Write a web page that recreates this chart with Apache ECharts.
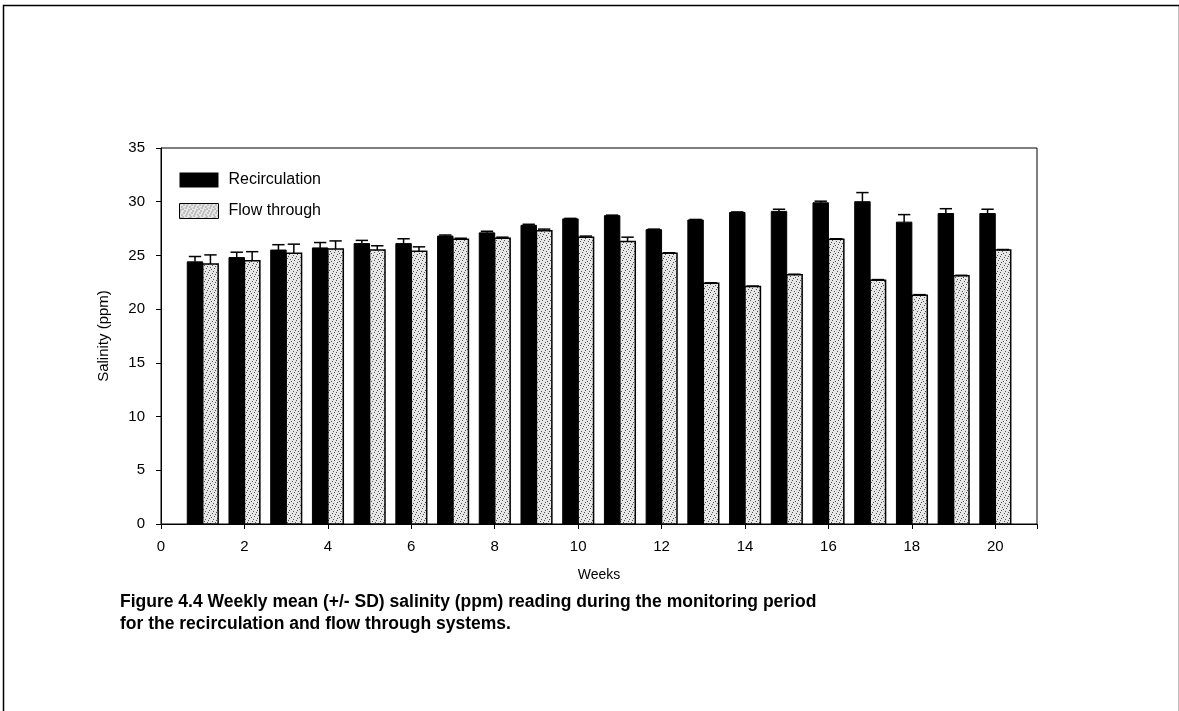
<!DOCTYPE html>
<html>
<head>
<meta charset="utf-8">
<script src="https://cdn.jsdelivr.net/npm/echarts@6/dist/echarts.min.js"></script>
<style>
html,body{margin:0;padding:0;background:#fff;}
#chart{width:1179px;height:711px;}
</style>
</head>
<body>
<div id="chart"></div>
<script>
// ---- data ----
const weeks = [1,2,3,4,5,6,7,8,9,10,11,12,13,14,15,16,17,18,19,20];
const recirculation = [24.4,24.8,25.5,25.7,26.1,26.1,26.8,27.1,27.8,28.4,28.7,27.4,28.3,29.0,29.1,29.9,30.0,28.1,28.9,28.9];
const recirculationSD = [0.5,0.5,0.5,0.5,0.3,0.45,0.1,0.15,0.1,0.05,0.05,0.05,0.05,0.05,0.2,0.15,0.85,0.7,0.45,0.4];
const flowThrough = [24.2,24.5,25.2,25.6,25.5,25.4,26.5,26.6,27.3,26.7,26.3,25.2,22.4,22.1,23.2,26.5,22.7,21.3,23.1,25.5];
const flowThroughSD = [0.85,0.85,0.85,0.75,0.4,0.4,0.1,0.1,0.15,0.1,0.4,0.05,0.05,0.05,0.05,0.05,0.05,0.05,0.05,0.05];
const yTicks = [0,5,10,15,20,25,30,35];
const xTicks = [0,2,4,6,8,10,12,14,16,18,20];

// ---- speckled fill pattern for "Flow through" ----
function makePattern(){
  const c = document.createElement('canvas');
  c.width = 8; c.height = 8;
  const ctx = c.getContext('2d');
  ctx.fillStyle = '#e6e6e6';
  ctx.fillRect(0,0,8,8);
  ctx.fillStyle = '#555';
  const dots = [[0,0],[4,1],[2,3],[6,4],[1,6],[5,7],[7,2],[3,5]];
  dots.forEach(d => ctx.fillRect(d[0], d[1], 1, 1));
  return c;
}
const pattern = {image: makePattern(), repeat: 'repeat'};

const BW = 0.37; // bar width in weeks

function makeRender(offStart, offEnd, fill, stroke, lw){
  return function(params, api){
    const w = api.value(0), v = api.value(1), sd = api.value(2);
    const p0 = api.coord([w + offStart, v]);
    const p1 = api.coord([w + offEnd, 0]);
    const cxv = w + (offStart + offEnd) / 2;
    const pc = api.coord([cxv, v]);
    const pt = api.coord([cxv, v + sd]);
    const half = (p1[0] - p0[0]) * 0.4;
    return {
      type: 'group',
      children: [
        {type:'rect', shape:{x:p0[0], y:p0[1], width:p1[0]-p0[0], height:p1[1]-p0[1]},
         style:{fill: fill, stroke: stroke, lineWidth: lw}},
        {type:'line', shape:{x1:pc[0], y1:pc[1], x2:pt[0], y2:pt[1]}, style:{stroke:'#000', lineWidth:1.5}},
        {type:'line', shape:{x1:pt[0]-half, y1:pt[1], x2:pt[0]+half, y2:pt[1]}, style:{stroke:'#000', lineWidth:1.5}}
      ]
    };
  };
}

const recData = weeks.map((w,i)=>[w, recirculation[i], recirculationSD[i]]);
const flowData = weeks.map((w,i)=>[w, flowThrough[i], flowThroughSD[i]]);

const chart = echarts.init(document.getElementById('chart'), null, {renderer:'canvas'});
const font = 'Liberation Sans, Arial, Helvetica, sans-serif';
chart.setOption({
  animation: false,
  backgroundColor: '#fff',
  textStyle: {fontFamily: font, color:'#000'},
  grid: {left:161, top:148, width:876, height:376, show:true, borderColor:'#000', borderWidth:1, backgroundColor:'transparent'},
  legend: {
    orient:'vertical', left:179, top:172, padding:0, itemWidth:39, itemHeight:15, itemGap:15,
    textStyle:{fontFamily:font, fontSize:16, color:'#000', padding:[0,0,0,5]},
    data:[
      {name:'Recirculation', icon:'rect', itemStyle:{color:'#000'}},
      {name:'Flow through', icon:'rect', itemStyle:{color:pattern, borderColor:'#000', borderWidth:1}}
    ]
  },
  xAxis: {
    type:'value', min:0, max:21, interval:2,
    name:'Weeks', nameLocation:'middle', nameGap:44,
    nameTextStyle:{fontFamily:font, fontSize:14, color:'#000'},
    axisLine:{show:true, lineStyle:{color:'#000', width:1}},
    axisTick:{show:true, inside:false, length:5, lineStyle:{color:'#000'}},
    axisLabel:{fontFamily:font, fontSize:15, color:'#000', margin:15,
      formatter: v => xTicks.indexOf(v) >= 0 ? String(v) : ''},
    splitLine:{show:false}
  },
  yAxis: {
    type:'value', min:0, max:35, interval:5,
    name:'Salinity (ppm)', nameLocation:'middle', nameGap:50,
    nameTextStyle:{fontFamily:font, fontSize:15, color:'#000'},
    axisLine:{show:true, lineStyle:{color:'#000', width:1}},
    axisTick:{show:true, inside:false, length:5, lineStyle:{color:'#000'}},
    axisLabel:{fontFamily:font, fontSize:15, color:'#000', margin:16,
      formatter: v => yTicks.indexOf(v) >= 0 ? String(v) : ''},
    splitLine:{show:false}
  },
  series: [
    {name:'Recirculation', type:'custom', data:recData, encode:{x:0, y:1},
     itemStyle:{color:'#000'},
     renderItem: makeRender(-BW, 0, '#000', '#000', 1)},
    {name:'Flow through', type:'custom', data:flowData, encode:{x:0, y:1},
     itemStyle:{color:pattern, borderColor:'#000'},
     renderItem: makeRender(0, BW, pattern, '#000', 1.5)}
  ],
  graphic: [
    {type:'rect', left:1, top:3, shape:{width:1176, height:720}, style:{fill:'none', stroke:'#000', lineWidth:1.5}, silent:true},
    {type:'text', left:120, top:591, style:{text:'Figure 4.4 Weekly mean (+/- SD) salinity (ppm) reading during the monitoring period\nfor the recirculation and flow through systems.',
      font:'bold 17.5px ' + font, fill:'#000', lineHeight:22}}
  ]
});
</script>
</body>
</html>
